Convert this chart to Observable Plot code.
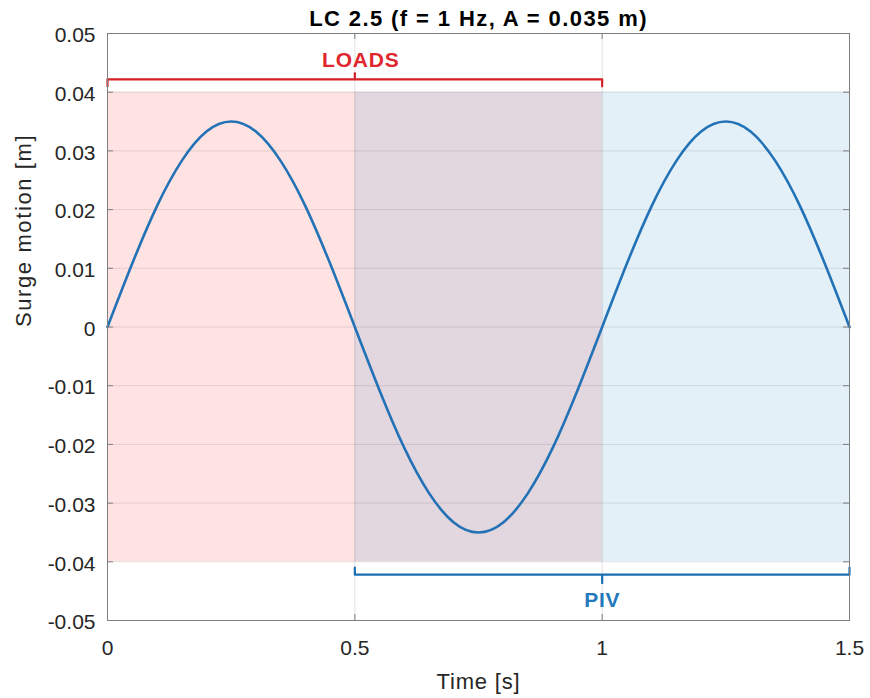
<!DOCTYPE html>
<html><head><meta charset="utf-8">
<script src="https://cdn.jsdelivr.net/npm/d3@7"></script>
<script src="https://cdn.jsdelivr.net/npm/@observablehq/plot@0.6"></script>
<style>body{margin:0;background:#fff;}</style>
</head><body><div id="chart"></div>
<script>
// ---- data ----
const title = "LC 2.5 (f = 1 Hz, A = 0.035 m)";
const xLabel = "Time [s]";
const yLabel = "Surge motion [m]";

const time = [0, 0.05, 0.1, 0.15, 0.2, 0.25, 0.3, 0.35, 0.4, 0.45, 0.5,
              0.55, 0.6, 0.65, 0.7, 0.75, 0.8, 0.85, 0.9, 0.95, 1.0,
              1.05, 1.1, 1.15, 1.2, 1.25, 1.3, 1.35, 1.4, 1.45, 1.5];
const surge = [0, 0.0108, 0.0206, 0.0283, 0.0333, 0.035, 0.0333, 0.0283, 0.0206, 0.0108, 0,
               -0.0108, -0.0206, -0.0283, -0.0333, -0.035, -0.0333, -0.0283, -0.0206, -0.0108, 0,
               0.0108, 0.0206, 0.0283, 0.0333, 0.035, 0.0333, 0.0283, 0.0206, 0.0108, 0];

const xTicks = [0, 0.5, 1, 1.5];
const xTickLabels = ["0", "0.5", "1", "1.5"];
const yTicks = [0.05, 0.04, 0.03, 0.02, 0.01, 0, -0.01, -0.02, -0.03, -0.04, -0.05];
const yTickLabels = ["0.05", "0.04", "0.03", "0.02", "0.01", "0", "-0.01", "-0.02", "-0.03", "-0.04", "-0.05"];

const regionNames = ["LOADS", "PIV"];
const regionStart = [0, 0.5];
const regionEnd = [1, 1.5];
const regionLow = [-0.04, -0.04];
const regionHigh = [0.04, 0.04];
const bracketLevel = [0.0422, -0.0422];
const bracketMid = [0.5, 1];

// ---- styles / layout ----
const W = 870, H = 698;
const mL = 107, mR = 21, mT = 33, mB = 78;
const plotW = W - mL - mR, plotH = H - mT - mB;
const regionColor = {LOADS: "#ff0000", PIV: "#0072bd"};
const bracketColor = {LOADS: "#d42027", PIV: "#1a6fb2"};
const textColor = {LOADS: "#e0262d", PIV: "#2479bd"};
const axisGray = "#7f7f7f";
const font = "'Liberation Sans', Arial, Helvetica, sans-serif";

const curveData = time.map((t, i) => ({t, y: surge[i]}));
const regions = regionNames.map((name, i) => ({
  name, x1: regionStart[i], x2: regionEnd[i], y1: regionLow[i], y2: regionHigh[i]
}));
const hookLen = 0.0012, midLen = 0.0011;
const bracketPaths = [];
const bracketTicks = [];
regionNames.forEach((name, i) => {
  const lvl = bracketLevel[i];
  const dir = lvl > 0 ? -1 : 1; // hooks point toward the shaded box
  bracketPaths.push({name, x: regionStart[i], y: lvl + dir * hookLen});
  bracketPaths.push({name, x: regionStart[i], y: lvl});
  bracketPaths.push({name, x: regionEnd[i], y: lvl});
  bracketPaths.push({name, x: regionEnd[i], y: lvl + dir * hookLen});
  bracketTicks.push({name, x: bracketMid[i], y1: lvl, y2: lvl - dir * midLen * (lvl > 0 ? 1 : 1.5)});
});
const labelData = regionNames.map((name, i) => ({name, x: bracketMid[i], y: bracketLevel[i]}));

const chart = Plot.plot({
  width: W, height: H,
  marginLeft: mL, marginRight: mR, marginTop: mT, marginBottom: mB,
  x: {domain: [0, 1.5]},
  y: {domain: [-0.05, 0.05]},
  style: {fontFamily: font, fontSize: "21px", color: "#262626", background: "#fff"},
  marks: [
    Plot.rect(regions, {x1: "x1", x2: "x2", y1: "y1", y2: "y2",
      fill: d => regionColor[d.name], fillOpacity: 0.11}),
    Plot.gridX(xTicks.slice(1, -1), {stroke: "#000", strokeOpacity: 0.12, strokeWidth: 1}),
    Plot.gridY(yTicks.slice(1, -1), {stroke: "#000", strokeOpacity: 0.1, strokeWidth: 1}),
    Plot.line(curveData, {x: "t", y: "y", stroke: "#2372b6", strokeWidth: 2.6, curve: "natural"}),
    Plot.line(bracketPaths, {x: "x", y: "y", z: "name", stroke: d => bracketColor[d.name],
      strokeWidth: 2.2, strokeLinejoin: "round", strokeLinecap: "round"}),
    Plot.ruleX(bracketTicks, {x: "x", y1: "y1", y2: "y2", stroke: d => bracketColor[d.name], strokeWidth: 2.2}),
    Plot.text(labelData.filter(d => d.name === "LOADS"), {x: "x", y: "y", text: "name",
      dx: 6, dy: -12.5, lineAnchor: "bottom", fontSize: 21, fontWeight: "bold", fill: d => textColor[d.name]}),
    Plot.text(labelData.filter(d => d.name === "PIV"), {x: "x", y: "y", text: "name",
      dy: 32, lineAnchor: "bottom", fontSize: 21, fontWeight: "bold", fill: d => textColor[d.name]}),
    Plot.frame({stroke: axisGray, strokeWidth: 1}),
    // inward tick marks on all four sides
    Plot.tickY(yTicks, {y: d => d, insetRight: plotW - 6, stroke: axisGray}),
    Plot.tickY(yTicks, {y: d => d, insetLeft: plotW - 6, stroke: axisGray}),
    Plot.tickX(xTicks, {x: d => d, insetTop: plotH - 6, stroke: axisGray}),
    Plot.tickX(xTicks, {x: d => d, insetBottom: plotH - 6, stroke: axisGray}),
    Plot.axisX(xTicks, {tickSize: 0, tickPadding: 20, label: null, fontSize: 21,
      tickFormat: d => xTickLabels[xTicks.indexOf(d)]}),
    Plot.axisY(yTicks, {tickSize: 0, tickPadding: 12, label: null, fontSize: 21, dy: 2,
      tickFormat: d => yTickLabels[yTicks.indexOf(d)]}),
    Plot.text([title], {frameAnchor: "top", dy: -8, lineAnchor: "bottom",
      fontSize: 22, fontWeight: "bold", fill: "#000"}),
    Plot.text([xLabel], {frameAnchor: "bottom", dy: 68, lineAnchor: "bottom", fontSize: 22, fill: "#262626"}),
    Plot.text([yLabel], {frameAnchor: "left", dx: -77, rotate: -90, lineAnchor: "bottom", fontSize: 22, fill: "#262626"})
  ]
});

// slight letter spacing to mimic the wider rendering of the original
const spacing = {};
spacing[title] = "1.4px";
spacing[xLabel] = "0.8px";
spacing[yLabel] = "1.6px";
spacing["LOADS"] = "0.8px";
spacing["PIV"] = "0.6px";
d3.select(chart).selectAll("text").each(function () {
  const s = spacing[this.textContent];
  if (s) this.setAttribute("letter-spacing", s);
});
document.getElementById("chart").appendChild(chart);
</script>
</body></html>
